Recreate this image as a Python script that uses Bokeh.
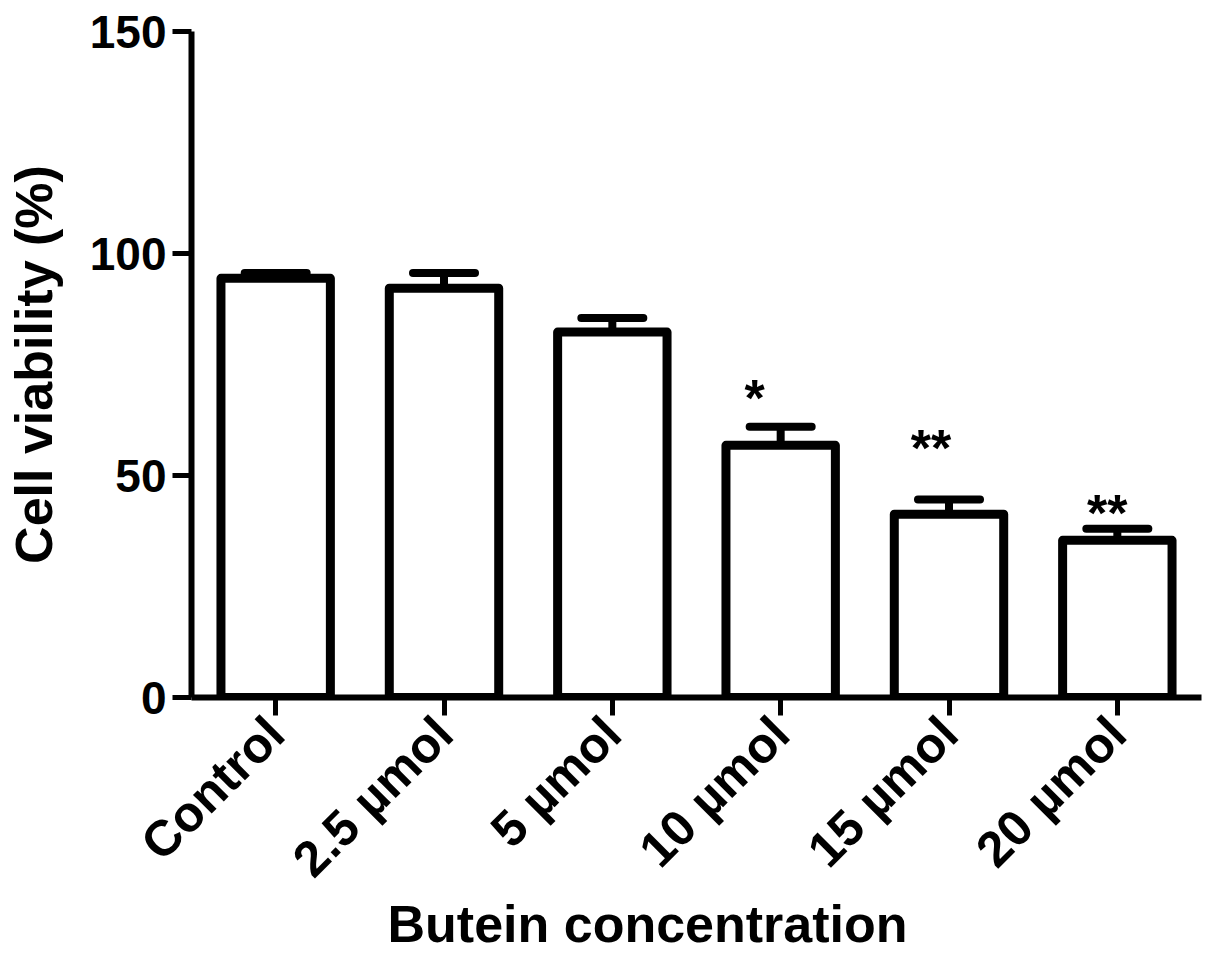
import math
from bokeh.plotting import figure
from bokeh.models import FactorRange, Range1d, ColumnDataSource, Title, FixedTicker, Whisker, TeeHead
from bokeh.core.properties import value
from bokeh.embed import file_html
from bokeh.resources import INLINE

# ---- data ----
categories = ["Control", "2.5 µmol", "5 µmol", "10 µmol", "15 µmol", "20 µmol"]
viability = [94.4, 92.2, 82.3, 56.8, 41.3, 35.4]
sem = [1.2, 3.4, 3.2, 4.2, 3.3, 2.6]
sig_categories = ["10 µmol", "15 µmol", "20 µmol"]
sig_text = ["*", "**", "**"]
sig_y = [67.4, 56.2, 41.6]
y_ticks = [0, 50, 100, 150]

FONT = "Liberation Sans"

src = ColumnDataSource(dict(
    cat=categories,
    val=viability,
    upper=[v + e for v, e in zip(viability, sem)],
))

p = figure(
    x_range=FactorRange(factors=categories, range_padding=0),
    y_range=Range1d(0, 150),
    frame_width=1010, frame_height=666,
    min_border_left=191, min_border_top=31, min_border_right=4, min_border_bottom=258,
    output_backend="svg", toolbar_location=None,
    background_fill_color="white", border_fill_color="white",
)
p.outline_line_color = None
p.xgrid.grid_line_color = None
p.ygrid.grid_line_color = None

p.vbar(x="cat", top="val", bottom=0, width=0.65, source=src,
       fill_color="white", line_color="black", line_width=9, line_join="round")

w = Whisker(base="cat", lower="val", upper="upper", source=src,
            line_color="black", line_width=8,
            upper_head=TeeHead(size=62, line_width=8, line_color="black", line_cap="round"),
            lower_head=None)
p.add_layout(w)

star_shift_px = [-26, -18, -10]
sig_src = ColumnDataSource(dict(cat=sig_categories, y=sig_y, t=sig_text, dx=star_shift_px))
p.text(x="cat", y="y", text="t", source=sig_src, x_offset="dx",
       text_font=value(FONT), text_font_style="bold", text_font_size="52px",
       text_align="center", text_baseline="alphabetic", text_color="black")

# y axis
ya = p.yaxis[0]
ya.ticker = FixedTicker(ticks=y_ticks)
ya.axis_label = "Cell viability (%)"
ya.axis_label_text_font = FONT
ya.axis_label_text_font_style = "bold"
ya.axis_label_text_font_size = "52px"
ya.axis_label_text_color = "black"
ya.axis_label_standoff = 24
ya.major_label_text_font = FONT
ya.major_label_text_font_style = "bold"
ya.major_label_text_font_size = "46px"
ya.major_label_text_color = "black"
ya.major_label_standoff = 6
ya.axis_line_width = 6
ya.axis_line_color = "black"
ya.major_tick_line_width = 5
ya.major_tick_out = 19
ya.major_tick_in = 0
ya.minor_tick_line_color = None

# x axis
xa = p.xaxis[0]
xa.major_label_orientation = math.pi / 4
xa.major_label_text_font = FONT
xa.major_label_text_font_style = "bold"
xa.major_label_text_font_size = "50px"
xa.major_label_text_color = "black"
xa.major_label_standoff = 10
xa.axis_line_width = 6
xa.axis_line_color = "black"
xa.major_tick_line_width = 5
xa.major_tick_out = 18
xa.major_tick_in = 0

t = Title(text="Butein concentration", align="left", offset=196,
          text_font=FONT, text_font_style="bold", text_font_size="52px",
          text_color="black", standoff=-36)
p.add_layout(t, "below")

open("out.html", "w").write(file_html(p, INLINE))
